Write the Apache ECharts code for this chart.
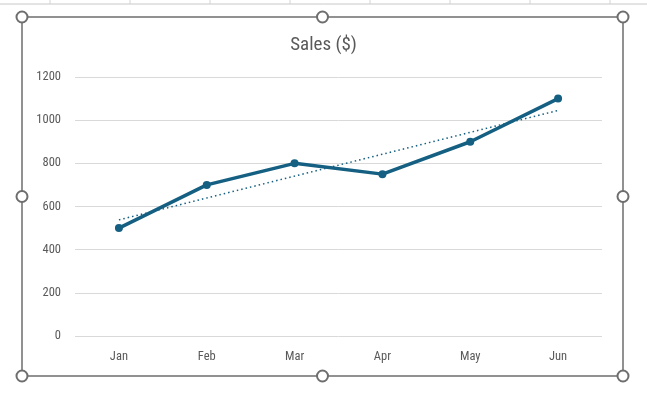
<!DOCTYPE html>
<html>
<head>
  <meta charset="UTF-8" />
  <title>Sales ($)</title>
  <script src="https://cdn.jsdelivr.net/npm/echarts@6/dist/echarts.min.js"></script>
  <style>
    html, body { margin: 0; padding: 0; background: #fff; }
    #myChart { width: 647px; height: 402px; }
  </style>
</head>
<body>
  <div id="myChart"></div>
  <script>
    const months = ['Jan', 'Feb', 'Mar', 'Apr', 'May', 'Jun'];
    const sales = [500, 700, 800, 750, 900, 1100];
    // linear trendline endpoints (Jan, Jun)
    const trendEnds = [[0, 538], [5, 1045]];

    const lineColor = '#156082';
    const textColor = '#595959';
    const font = '"Liberation Sans Narrow", "Roboto Condensed", "DejaVu Sans Condensed", sans-serif';

    const chart = echarts.init(document.getElementById('myChart'));

    // sheet column separators behind the chart
    const sheetLines = [];
    [50, 130, 210, 290, 370, 450, 530, 610].forEach(x => {
      sheetLines.push({ type: 'line', shape: { x1: x, y1: 0, x2: x, y2: 4 }, style: { stroke: '#d4d4d4', lineWidth: 1 }, z: -1 });
    });
    sheetLines.push({ type: 'line', shape: { x1: 0, y1: 4, x2: 647, y2: 4 }, style: { stroke: '#c8c8c8', lineWidth: 1 }, z: -1 });

    // selection frame and handles
    const fx1 = 22, fy1 = 17, fx2 = 623, fy2 = 376;
    const frame = [{
      type: 'rect',
      shape: { x: fx1, y: fy1, width: fx2 - fx1, height: fy2 - fy1 },
      style: { fill: 'none', stroke: '#6e6e6e', lineWidth: 1.5 },
      z: 10
    }];
    const hx = [fx1, (fx1 + fx2) / 2, fx2];
    const hy = [fy1, (fy1 + fy2) / 2, fy2];
    hx.forEach((x, i) => {
      hy.forEach((y, j) => {
        if (i === 1 && j === 1) return;
        frame.push({
          type: 'circle',
          shape: { cx: x, cy: y, r: 5.5 },
          style: { fill: '#fff', stroke: '#6e6e6e', lineWidth: 2 },
          z: 11
        });
      });
    });

    chart.setOption({
      animation: false,
      title: {
        text: 'Sales ($)',
        left: 'center',
        top: 31,
        textStyle: { color: textColor, fontSize: 19, fontWeight: 'normal', fontFamily: font }
      },
      grid: { left: 75, right: 45, top: 77, bottom: 66 },
      xAxis: {
        type: 'category',
        data: months,
        boundaryGap: true,
        axisLine: { show: false },
        axisTick: { show: false },
        axisLabel: { color: textColor, fontSize: 12.5, fontFamily: font, margin: 14 }
      },
      yAxis: {
        type: 'value',
        min: 0,
        max: 1200,
        interval: 200,
        axisLine: { show: false },
        axisTick: { show: false },
        axisLabel: { color: textColor, fontSize: 12.5, fontFamily: font, margin: 14, formatter: v => String(v) },
        splitLine: { lineStyle: { color: '#d9d9d9', width: 1 } }
      },
      graphic: sheetLines.concat(frame),
      series: [
        {
          name: 'Sales ($)',
          type: 'line',
          data: sales,
          symbol: 'circle',
          symbolSize: 8,
          lineStyle: { color: lineColor, width: 3.5 },
          itemStyle: { color: lineColor },
          z: 3
        },
        {
          name: 'Trend',
          type: 'line',
          data: trendEnds,
          symbol: 'none',
          lineStyle: { color: lineColor, width: 1.5, type: [1.5, 3] },
          z: 2
        }
      ]
    });
  </script>
</body>
</html>
